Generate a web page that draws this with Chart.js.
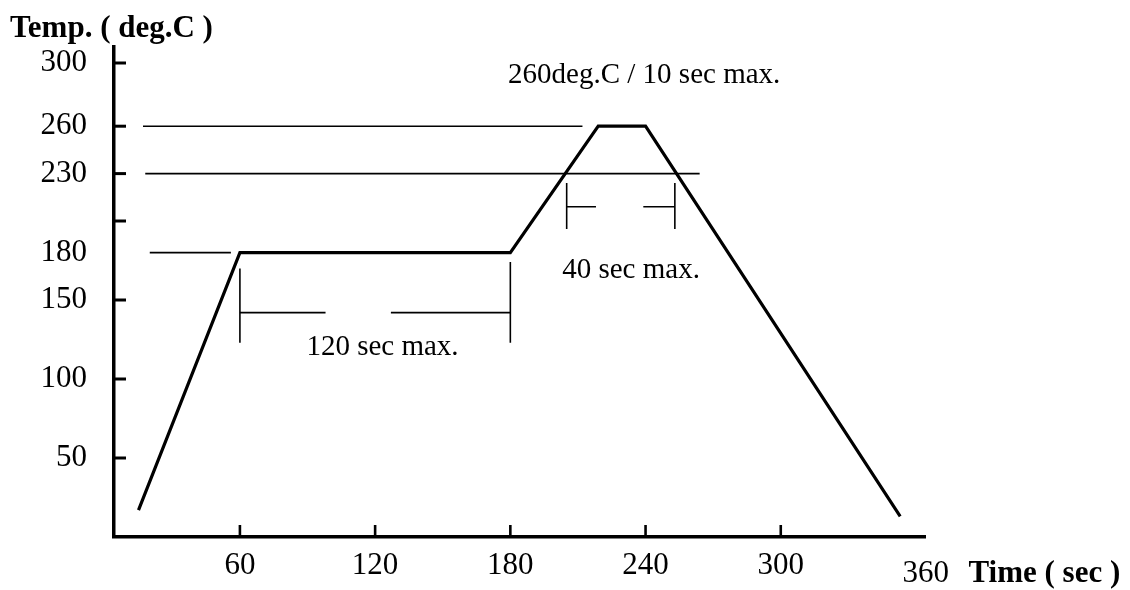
<!DOCTYPE html>
<html>
<head>
<meta charset="utf-8">
<script src="https://cdn.jsdelivr.net/npm/chart.js@4.4.0/dist/chart.umd.min.js"></script>
<style>
  html, body { margin: 0; padding: 0; background: #fff; }
  #wrap { width: 1130px; height: 590px; position: relative; }
</style>
</head>
<body>
<div id="wrap"><canvas id="c"></canvas></div>
<script>
// ---- data ----
const timeTicks = [60, 120, 180, 240, 300];
const tempTicks = [50, 100, 150, 180, 200, 230, 260, 300];
const tempTickLabels = ['50', '100', '150', '180', '', '230', '260', '300'];
const tempTickMarks = [50, 100, 150, 200, 230, 260, 300];

const profileTime = [15, 60, 180, 219, 240, 353];
const profileTemp = [17, 180, 180, 260, 260, 13];

const ref260Time = [17, 212];
const ref260Temp = [260, 260];
const ref230Time = [18, 264];
const ref230Temp = [230, 230];
const ref180Time = [20, 56];
const ref180Temp = [180, 180];

// 120 sec dimension marker
const dim120LeftTime = [60, 60];
const dim120LeftTemp = [170, 123];
const dim120RightTime = [180, 180];
const dim120RightTemp = [174, 123];
const dim120BarATime = [60, 98];
const dim120BarBTime = [127, 180];
const dim120BarTemp = [142, 142];

// 40 sec dimension marker
const dim40LeftTime = [205, 205];
const dim40RightTime = [253, 253];
const dim40VertTemp = [224, 195];
const dim40BarATime = [205, 218];
const dim40BarBTime = [239, 253];
const dim40BarTemp = [209, 209];

const labelTexts = ['260deg.C / 10 sec max.', '40 sec max.', '120 sec max.'];
const labelTimes = [179, 203, 89.5];
const labelTemps = [292, 169, 120];

const yTitle = 'Temp. ( deg.C )';
const xEndLabel = '360';
const xTitle = 'Time ( sec )';

// ---- helpers ----
function pts(xs, ys) { return xs.map((x, i) => ({ x: x, y: ys[i] })); }
function seg(xs, ys, w) {
  return { data: pts(xs, ys), showLine: true, borderColor: '#000', borderWidth: w,
           pointRadius: 0, fill: false, tension: 0 };
}

const datasets = [
  seg(ref260Time, ref260Temp, 1.6),
  seg(ref230Time, ref230Temp, 1.6),
  seg(ref180Time, ref180Temp, 1.6),
  seg(dim120LeftTime, dim120LeftTemp, 1.6),
  seg(dim120RightTime, dim120RightTemp, 1.6),
  seg(dim120BarATime, dim120BarTemp, 1.6),
  seg(dim120BarBTime, dim120BarTemp, 1.6),
  seg(dim40LeftTime, dim40VertTemp, 1.6),
  seg(dim40RightTime, dim40VertTemp, 1.6),
  seg(dim40BarATime, dim40BarTemp, 1.6),
  seg(dim40BarBTime, dim40BarTemp, 1.6),
  seg(profileTime, profileTemp, 3.2)
];

const SERIF = "'Liberation Serif', 'DejaVu Serif', serif";

const tickMarkPlugin = {
  id: 'tickMarks',
  afterDraw(chart) {
    const ctx = chart.ctx;
    const xs = chart.scales.x, ys = chart.scales.y;
    const a = chart.chartArea;
    ctx.save();
    ctx.strokeStyle = '#000';
    ctx.lineCap = 'butt';
    ctx.lineWidth = 3;
    tempTickMarks.forEach(v => {
      const py = ys.getPixelForValue(v);
      ctx.beginPath(); ctx.moveTo(a.left, py); ctx.lineTo(a.left + 12, py); ctx.stroke();
    });
    ctx.lineWidth = 2.6;
    timeTicks.forEach(v => {
      const px = xs.getPixelForValue(v);
      ctx.beginPath(); ctx.moveTo(px, a.bottom); ctx.lineTo(px, a.bottom - 12); ctx.stroke();
    });
    ctx.restore();
  }
};

const textPlugin = {
  id: 'textLabels',
  afterDraw(chart) {
    const ctx = chart.ctx;
    const xs = chart.scales.x, ys = chart.scales.y;
    ctx.save();
    ctx.fillStyle = '#000';
    ctx.textAlign = 'left';
    ctx.textBaseline = 'middle';
    ctx.font = '29px ' + SERIF;
    labelTexts.forEach((t, i) => {
      ctx.fillText(t, xs.getPixelForValue(labelTimes[i]), ys.getPixelForValue(labelTemps[i]));
    });
    // axis end label + title at the right of the time axis
    const bx = xs.getPixelForValue(354);
    const by = ys.getPixelForValue(-23.5);
    ctx.font = '31px ' + SERIF;
    ctx.fillText(xEndLabel, bx, by);
    const w = ctx.measureText(xEndLabel + '  ').width;
    ctx.font = 'bold 31px ' + SERIF;
    ctx.fillText(xTitle, bx + w + 4, by);
    ctx.restore();
  }
};

new Chart(document.getElementById('c'), {
  type: 'scatter',
  data: { datasets: datasets },
  plugins: [tickMarkPlugin, textPlugin],
  options: {
    responsive: true,
    maintainAspectRatio: false,
    animation: false,
    events: [],
    layout: { padding: { left: 10, right: 205, top: 0, bottom: 0 } },
    plugins: {
      legend: { display: false },
      tooltip: { enabled: false },
      title: {
        display: true,
        text: yTitle,
        align: 'start',
        color: '#000',
        font: { family: SERIF, size: 31, weight: 'bold', lineHeight: 1.2 },
        padding: { top: 10, bottom: 0 }
      }
    },
    scales: {
      x: {
        type: 'linear',
        position: 'bottom',
        min: 4.13,
        max: 364,
        afterBuildTicks(scale) { scale.ticks = timeTicks.map(v => ({ value: v })); },
        afterFit(scale) { scale.height = 53; },
        ticks: { color: '#000', font: { family: SERIF, size: 31 }, padding: 10, maxRotation: 0,
                 callback: (v) => String(v) },
        grid: { display: false, drawTicks: false },
        border: { display: true, color: '#000', width: 3.5 }
      },
      y: {
        type: 'linear',
        min: 0,
        max: 310,
        afterBuildTicks(scale) { scale.ticks = tempTicks.map(v => ({ value: v })); },
        afterFit(scale) { scale.width = 104; },
        ticks: { color: '#000', font: { family: SERIF, size: 31 }, padding: 27,
                 callback: (v) => { const i = tempTicks.indexOf(v); return i >= 0 ? tempTickLabels[i] : ''; } },
        grid: { display: false, drawTicks: false },
        border: { display: true, color: '#000', width: 3.5 }
      }
    }
  }
});
</script>
</body>
</html>
